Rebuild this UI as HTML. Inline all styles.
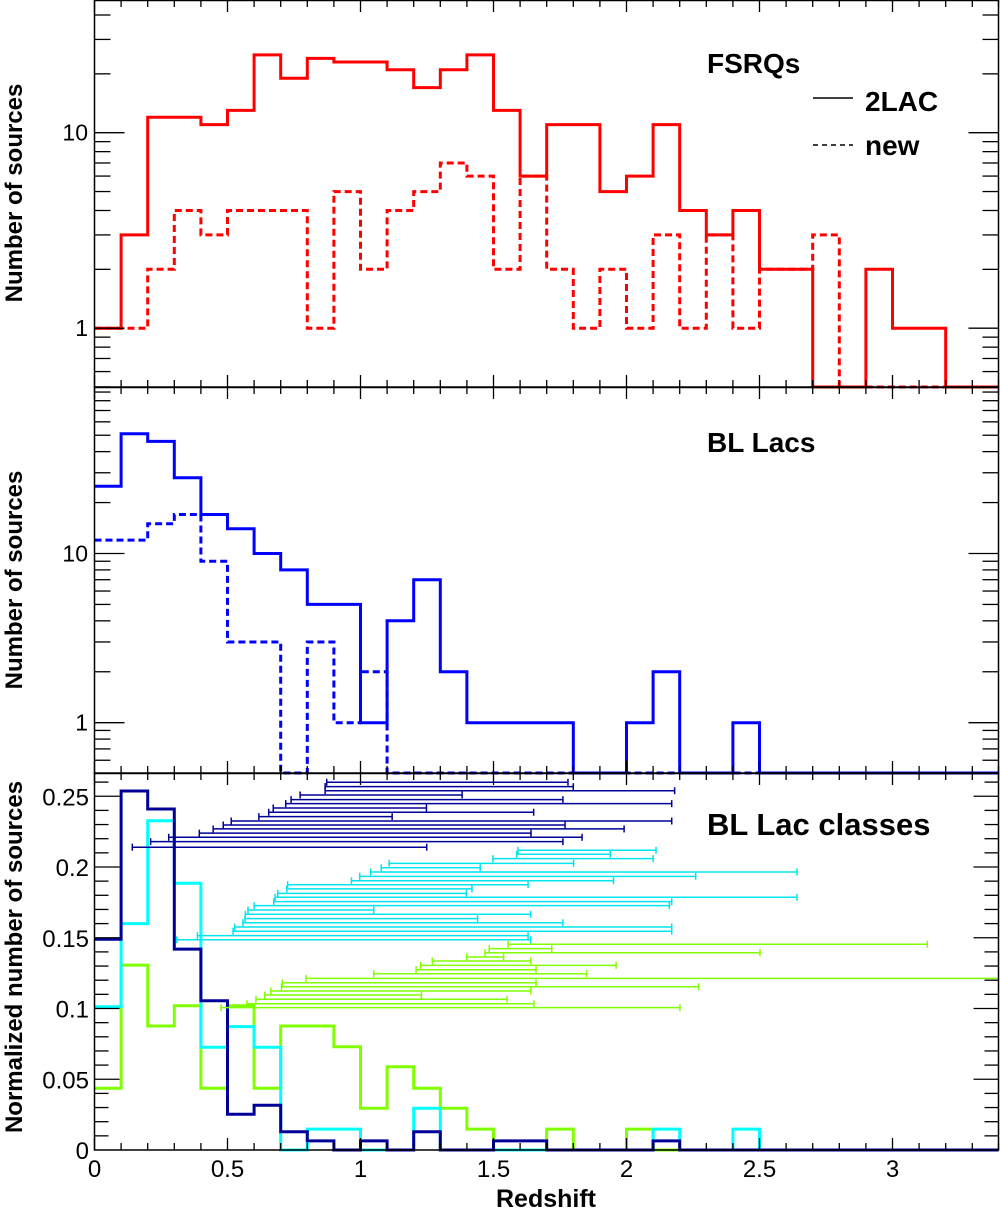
<!DOCTYPE html>
<html><head><meta charset="utf-8"><style>
body{margin:0;background:#fff;}
svg text{font-family:"Liberation Sans",Arial,sans-serif;fill:#000;}
</style></head><body>
<svg id="chart" xmlns="http://www.w3.org/2000/svg" width="1000" height="1212" viewBox="0 0 1000 1212">
<rect width="1000" height="1212" fill="#fff"/>
<g id="marks"></g>
<g id="axes"></g>
<text x="707" y="73" font-size="28" font-weight="bold">FSRQs</text>
<line x1="813" y1="98" x2="853" y2="98" stroke="#000" stroke-width="1.5"/>
<text x="865" y="111" font-size="28" font-weight="bold">2LAC</text>
<line x1="813" y1="145" x2="853" y2="145" stroke="#000" stroke-width="1.5" stroke-dasharray="5,4"/>
<text x="865" y="155" font-size="28" font-weight="bold">new</text>
<text x="707" y="452" font-size="28" font-weight="bold">BL Lacs</text>
<text x="707" y="835" font-size="31" font-weight="bold">BL Lac classes</text>
<text transform="translate(22,193) rotate(-90)" text-anchor="middle" font-size="24" font-weight="bold">Number of sources</text>
<text transform="translate(22,580) rotate(-90)" text-anchor="middle" font-size="24" font-weight="bold">Number of sources</text>
<text transform="translate(22,957) rotate(-90)" text-anchor="middle" font-size="24" font-weight="bold">Normalized number of sources</text>
<text x="546" y="1207" text-anchor="middle" font-size="25" font-weight="bold">Redshift</text>
</svg>
<script>
// ---- data (bins of 0.1 in redshift from 0 to 3.4) ----
const binWidth = 0.1;
const fsrq2lac = [1,3,12,12,11,13,25,19,24,23,23,21,17,21,25,13,6,11,11,5,6,11,4,3,4,2,2,0,0,2,1,1,0,0];
const fsrqNew  = [1,1,2,4,3,4,4,4,1,5,2,4,5,7,6,2,6,2,1,2,1,3,1,3,1,2,2,3,0,0,0,0,0,0];
const bl2lac   = [25,51,46,28,17,14,10,8,5,5,1,4,7,2,1,1,1,1,0,0,1,2,0,0,1,0,0,0,0,0,0,0,0,0];
const blNew    = [12,12,15,17,9,3,3,0,3,1,2,0,0,0,0,0,0,0,0,0,0,0,0,0,0,0,0,0,0,0,0,0,0,0];
const classNavy  = [0.149,0.2537,0.241,0.142,0.1055,0.0252,0.0316,0.0129,0.0064,0,0.0064,0,0.0129,0,0,0.0064,0.0064,0,0,0,0,0.0064,0,0,0,0,0,0,0,0,0,0,0,0];
const classCyan  = [0.1013,0.16,0.2327,0.1885,0.0726,0.0872,0.0726,0,0.0148,0.0148,0,0,0.0295,0,0,0,0,0,0,0,0,0.0148,0,0,0.0148,0,0,0,0,0,0,0,0,0];
const classGreen = [0.0436,0.1307,0.0876,0.102,0.0436,0.102,0.0436,0.0876,0.0876,0.073,0.0295,0.0589,0.0436,0.0295,0.0148,0,0,0.0148,0,0,0.0148,0,0,0,0,0,0,0,0,0,0,0,0,0];
// error bars: level (normalized), redshift low, redshift high
const navyLevel = [0.2599,0.2568,0.2539,0.2509,0.2476,0.2448,0.2417,0.2387,0.2356,0.2325,0.2297,0.2269,0.2239,0.2210,0.2179,0.2140];
const navyLo = [0.873,0.867,0.867,0.773,0.739,0.719,0.672,0.655,0.618,0.514,0.484,0.446,0.394,0.279,0.211,0.142];
const navyHi = [1.780,1.800,2.181,1.382,1.761,2.170,1.248,1.651,1.119,2.170,1.769,1.991,1.641,1.833,1.761,1.249];
const cyanLevel = [0.2118,0.2090,0.2059,0.2026,0.1995,0.1965,0.1934,0.1903,0.1875,0.1845,0.1814,0.1786,0.1755,0.1727,0.1696,0.1666,0.1635,0.1606,0.1576,0.1546,0.1515,0.1486];
const cyanLo = [1.592,1.587,1.498,1.108,1.078,1.038,0.997,0.966,0.726,0.723,0.689,0.679,0.674,0.600,0.577,0.567,0.566,0.558,0.527,0.521,0.387,0.309];
const cyanHi = [2.111,1.939,2.100,1.801,1.450,2.641,2.260,1.951,1.630,1.419,1.398,2.641,2.170,2.161,1.050,1.640,1.440,1.761,2.170,2.170,1.630,1.640];
const greenLevel = [0.1454,0.1423,0.1394,0.1364,0.1336,0.1305,0.1274,0.1246,0.1213,0.1182,0.1154,0.1124,0.1095,0.1065,0.1034,0.1006];
const greenLo = [1.555,1.484,1.468,1.399,1.270,1.226,1.209,1.050,0.795,0.706,0.703,0.663,0.640,0.607,0.573,0.476];
const greenHi = [3.131,1.719,2.502,1.538,1.640,1.961,1.660,1.850,3.5,1.660,2.271,1.640,1.229,1.551,1.652,2.201];
const xTickLabels = ["0","0.5","1","1.5","2","2.5","3"];
const xTickValues = [0,0.5,1,1.5,2,2.5,3];
const yLinTickLabels = ["0","0.05","0.1","0.15","0.2","0.25"];
const yLinTickValues = [0,0.05,0.1,0.15,0.2,0.25];
const yLogTickLabels = ["1","10"];
const yLogTickValues = [1,10];

// ---- scales ----
const NS = "http://www.w3.org/2000/svg";
const X0 = 94.5, XR = 998.5;
function xs(z){ return Math.min(XR, X0 + 266*z); }
const P1 = {top:0, bot:387, y: v => v<=0 ? 387 : Math.min(387, 132.7 - (Math.log10(v)-1)*195.5)};
const P2 = {top:387, bot:773, y: v => v<=0 ? 773 : Math.min(773, 553.5 - (Math.log10(v)-1)*169.2)};
const P3 = {top:773, bot:1150, y: v => 1150 - v*1415};
const marks = document.getElementById('marks');
const axes = document.getElementById('axes');
function mk(parent, tag, attrs){
  const e = document.createElementNS(NS, tag);
  for (const k in attrs) e.setAttribute(k, attrs[k]);
  parent.appendChild(e);
  return e;
}
function stepPath(vals, panel){
  let d = '';
  vals.forEach((v,i)=>{
    const x1 = xs(i*binWidth), x2 = xs((i+1)*binWidth), y = panel.y(v);
    d += (i===0 ? 'M' : 'L') + x1.toFixed(1) + ' ' + y.toFixed(1) + ' L' + x2.toFixed(1) + ' ' + y.toFixed(1) + ' ';
  });
  return d;
}
function hist(vals, panel, color, dash, name){
  const p = mk(marks, 'path', {d: stepPath(vals, panel), fill:'none', stroke:color, 'stroke-width':3, 'stroke-dasharray': dash || 'none'});
  
  
}
hist(fsrq2lac, P1, '#ff0000', null, 'fsrq-2lac-histogram');
hist(fsrqNew, P1, '#ff0000', '7,4', 'fsrq-new-histogram');
hist(bl2lac, P2, '#0000ff', null, 'bllac-2lac-histogram');
hist(blNew, P2, '#0000ff', '7,4', 'bllac-new-histogram');
hist(classGreen, P3, '#80ff00', null, 'class-green-histogram');
hist(classCyan, P3, '#00ffff', null, 'class-cyan-histogram');
hist(classNavy, P3, '#000099', null, 'class-navy-histogram');

function errBars(level, lo, hi, color, name){
  level.forEach((v,i)=>{
    const y = P3.y(v), x1 = xs(lo[i]), x2 = xs(hi[i]);
    const g = mk(marks, 'g', {stroke:color, 'stroke-width':1.5});
    
    
    mk(g, 'line', {x1:x1, y1:y, x2:x2, y2:y});
    mk(g, 'line', {x1:x1, y1:y-3.5, x2:x1, y2:y+3.5});
    if (hi[i] < 3.4) mk(g, 'line', {x1:x2, y1:y-3.5, x2:x2, y2:y+3.5});
  });
}
errBars(navyLevel, navyLo, navyHi, '#000099', 'navy-redshift-range-bar');
errBars(cyanLevel, cyanLo, cyanHi, '#00e5ee', 'cyan-redshift-range-bar');
errBars(greenLevel, greenLo, greenHi, '#80ff00', 'green-redshift-range-bar');

// ---- axes ----
function line(x1,y1,x2,y2,w){ return mk(axes,'line',{x1:x1,y1:y1,x2:x2,y2:y2,stroke:'#000','stroke-width':w||1.3}); }
[P1,P2,P3].forEach((P,pi)=>{
  const fr = mk(axes,'rect',{x:X0,y:P.top+0.5,width:XR-X0,height:P.bot-P.top-0.5,fill:'none',stroke:'#000','stroke-width':1.5});
  
  
  for (let k=0;k<=34;k++){
    const x = xs(k*0.1), L = (k%5===0) ? 12 : 7;
    line(x, P.top, x, P.top+L);
    line(x, P.bot, x, P.bot-L);
  }
});
function logTicks(P, vmin, vmax){
  for (let dec=0.1; dec<=10; dec*=10){
    for (let m=1;m<=9;m++){
      const v = m*dec;
      if (v < vmin || v > vmax) continue;
      const y = P.y(v), L = (m===1) ? 30 : 16;
      line(X0, y, X0+L, y);
      line(XR, y, XR-L, y);
    }
  }
  yLogTickValues.forEach((v,i)=>{
    const t = mk(axes,'text',{x:88,y:P.y(v)+8,'text-anchor':'end','font-size':23});
    t.textContent = yLogTickLabels[i];
    
    
  });
}
logTicks(P1, 0.5, 47);
logTicks(P2, 0.51, 99);
for (let k=1;k<=26;k++){
  const y = P3.y(k*0.01), L = (k%5===0) ? 25 : 14;
  line(X0, y, X0+L, y);
  line(XR, y, XR-L, y);
}
yLinTickValues.forEach((v,i)=>{
  const t = mk(axes,'text',{x:89,y:P3.y(v)+9,'text-anchor':'end','font-size':24});
  t.textContent = yLinTickLabels[i];
  
  
});
xTickValues.forEach((v,i)=>{
  const t = mk(axes,'text',{x:xs(v),y:1177,'text-anchor':'middle','font-size':24});
  t.textContent = xTickLabels[i];
  
  
});
</script>
</body></html>
